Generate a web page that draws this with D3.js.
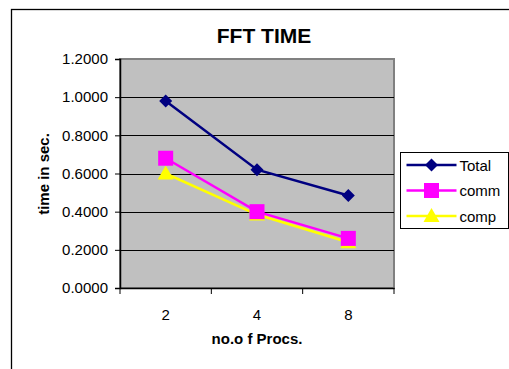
<!DOCTYPE html>
<meta charset="utf-8">
<style>
body { margin: 0; background: #fff; }
svg { display: block; font-family: Arial, "Liberation Sans", sans-serif; }
.grid line { stroke: #000; stroke-width: 1px; }
.axis text { font-size: 15px; fill: #000; }
.axis path, .axis line { stroke: #000; }
</style>
<body>
<script src="https://d3js.org/d3.v7.min.js"></script>
<script>
// data
var procs = ["2", "4", "8"];
var total = [0.98, 0.62, 0.485];
var comm = [0.68, 0.40, 0.26];
var comp = [0.60, 0.385, 0.24];
var yTicks = [0, 0.2, 0.4, 0.6, 0.8, 1.0, 1.2];

var series = [
  {name: "Total", values: total, color: "#000080", shape: "diamond"},
  {name: "comm", values: comm, color: "#ff00ff", shape: "square"},
  {name: "comp", values: comp, color: "#ffff00", shape: "triangle"}
];

var W = 509, H = 369;
var plot = {left: 120, right: 394, top: 59, bottom: 288};

var svg = d3.select("body").append("svg")
    .attr("width", W)
    .attr("height", H);

// outer frame (only left and top visible)
svg.append("rect")
    .attr("x", 11.5).attr("y", 9.5)
    .attr("width", W).attr("height", H)
    .attr("fill", "#fff").attr("stroke", "#000").attr("stroke-width", 1.3);

var x = d3.scaleBand().domain(procs).range([plot.left, plot.right]);
var y = d3.scaleLinear().domain([0, 1.2]).range([plot.bottom, plot.top]);

// plot area
svg.append("rect")
    .attr("x", plot.left).attr("y", plot.top)
    .attr("width", plot.right - plot.left).attr("height", plot.bottom - plot.top)
    .attr("fill", "#c0c0c0").attr("stroke", "#808080").attr("stroke-width", 2);

// gridlines
svg.append("g").attr("class", "grid")
  .selectAll("line")
  .data(yTicks.filter(function(d) { return d > 0 && d < 1.2; }))
  .enter().append("line")
    .attr("x1", plot.left).attr("x2", plot.right)
    .attr("y1", function(d) { return Math.round(y(d)) + 0.5; })
    .attr("y2", function(d) { return Math.round(y(d)) + 0.5; });

// y axis
var yAxis = svg.append("g").attr("class", "axis")
    .attr("transform", "translate(" + plot.left + ",0)")
    .call(d3.axisLeft(y).tickValues(yTicks).tickSize(5).tickPadding(7)
      .tickFormat(d3.format(".4f")));
yAxis.select(".domain").attr("stroke-width", 1.5);

// x axis
var xAxis = svg.append("g").attr("class", "axis")
    .attr("transform", "translate(0," + plot.bottom + ")")
    .call(d3.axisBottom(x).tickSize(0).tickPadding(21));
xAxis.select(".domain").attr("stroke-width", 1.5);
xAxis.selectAll(".tick line").remove();
// category separator ticks
xAxis.selectAll(".sep")
  .data(procs.concat(["end"]))
  .enter().append("line")
    .attr("class", "sep")
    .attr("x1", function(d, i) { return i < procs.length ? x(d) : plot.right; })
    .attr("x2", function(d, i) { return i < procs.length ? x(d) : plot.right; })
    .attr("y1", 0).attr("y2", 6)
    .attr("stroke", "#000");

function cx(i) { return x(procs[i]) + x.bandwidth() / 2; }

function marker(sel, shape, color) {
  if (shape === "diamond") {
    sel.append("path").attr("d", "M0,-6.5L6.5,0L0,6.5L-6.5,0Z").attr("fill", color);
  } else if (shape === "square") {
    sel.append("rect").attr("x", -7.5).attr("y", -7.5).attr("width", 15).attr("height", 15).attr("fill", color);
  } else {
    sel.append("path").attr("d", "M0,-8L8,6L-8,6Z").attr("fill", color);
  }
}

var line = d3.line()
    .x(function(d, i) { return cx(i); })
    .y(function(d) { return y(d); });

// draw comp first so Total sits on top
series.slice().reverse().forEach(function(s) {
  svg.append("path")
      .attr("d", line(s.values))
      .attr("fill", "none")
      .attr("stroke", s.color)
      .attr("stroke-width", 2.5);
  s.values.forEach(function(v, i) {
    var g = svg.append("g").attr("transform", "translate(" + cx(i) + "," + y(v) + ")");
    marker(g, s.shape, s.color);
  });
});

// title
svg.append("text")
    .attr("x", 264).attr("y", 43)
    .attr("text-anchor", "middle")
    .style("font-size", "21px").style("font-weight", "bold")
    .text("FFT TIME");

// axis titles
svg.append("text")
    .attr("transform", "translate(49,174) rotate(-90)")
    .attr("text-anchor", "middle")
    .style("font-size", "15px").style("font-weight", "bold")
    .text("time in sec.");

svg.append("text")
    .attr("x", 257).attr("y", 344)
    .attr("text-anchor", "middle")
    .style("font-size", "15px").style("font-weight", "bold")
    .text("no.o f Procs.");

// legend
var leg = svg.append("g").attr("transform", "translate(400.5,152.5)");
leg.append("rect")
    .attr("width", 108).attr("height", 76)
    .attr("fill", "#fff").attr("stroke", "#000");
series.forEach(function(s, i) {
  var ly = 12.5 + i * 25.5;
  leg.append("line")
      .attr("x1", 6).attr("x2", 56).attr("y1", ly).attr("y2", ly)
      .attr("stroke", s.color).attr("stroke-width", 2.5);
  var g = leg.append("g").attr("transform", "translate(31," + ly + ")");
  marker(g, s.shape, s.color);
  leg.append("text")
      .attr("x", 59).attr("y", ly + 5.5)
      .style("font-size", "15px")
      .text(s.name);
});
</script>
</body>
